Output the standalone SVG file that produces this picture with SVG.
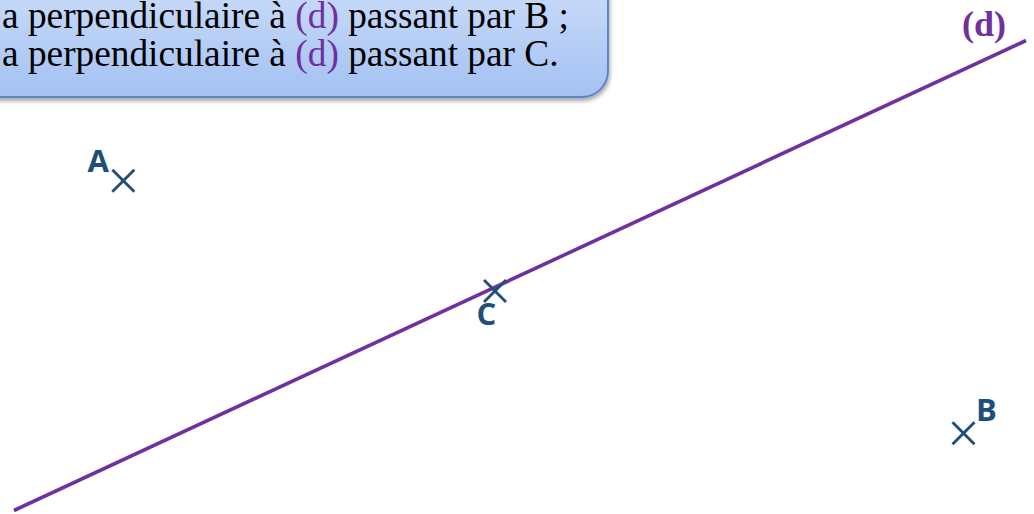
<svg xmlns="http://www.w3.org/2000/svg" width="1034" height="514" viewBox="0 0 1034 514">
  <defs>
    <linearGradient id="boxGrad" x1="0" y1="0" x2="0" y2="1">
      <stop offset="0" stop-color="#CFDFFA"/>
      <stop offset="1" stop-color="#A3C1F2"/>
    </linearGradient>
    <filter id="shadow" x="-10%" y="-10%" width="120%" height="130%">
      <feGaussianBlur in="SourceAlpha" stdDeviation="2"/>
      <feOffset dx="1" dy="3" result="b"/>
      <feComponentTransfer><feFuncA type="linear" slope="0.35"/></feComponentTransfer>
      <feMerge><feMergeNode/><feMergeNode in="SourceGraphic"/></feMerge>
    </filter>
    <g id="cross">
      <line x1="-11" y1="-11" x2="11" y2="11"/>
      <line x1="-11" y1="11" x2="11" y2="-11"/>
    </g>
  </defs>
  <style>
    .txt { font-family: "Liberation Serif", "Times New Roman", serif; font-size: 37.33px; fill: #000; }
    .purple { fill: #7030A0; }
    .lbl { font-family: "Open Sans", "Liberation Sans", sans-serif; font-weight: bold; font-size: 31px; fill: #1F4E79; }
    .cross { stroke: #1F4E79; stroke-width: 2.8; fill: none; }
    .dline { stroke: #7030A0; stroke-width: 3.6; stroke-linecap: butt; }
  </style>
  <rect width="1034" height="514" fill="#FFFFFF"/>

  <g id="instruction-box">
    <rect x="-30" y="-30" width="638" height="127" rx="26" ry="26" fill="url(#boxGrad)" stroke="#5A86C5" stroke-width="2" filter="url(#shadow)"/>
    <text class="txt" x="2" y="28">a perpendiculaire à <tspan class="purple">(d)</tspan> passant par B ;</text>
    <text class="txt" x="2" y="66">a perpendiculaire à <tspan class="purple">(d)</tspan> passant par C.</text>
  </g>

  <g id="connectors">
    <line class="dline" x1="14" y1="510.5" x2="1026" y2="40.5"/>
  </g>

  <g id="line-d-label">
    <text x="962" y="36" font-family="Liberation Serif, Times New Roman, serif" font-weight="bold" font-size="36" fill="#7030A0">(d)</text>
  </g>

  <g id="point-A">
    <use href="#cross" class="cross" transform="translate(123.3,180.7)"/>
    <text class="lbl" x="87.5" y="171.5">A</text>
  </g>

  <g id="point-C">
    <use href="#cross" class="cross" transform="translate(495,291)"/>
    <text class="lbl" x="476.5" y="325">C</text>
  </g>

  <g id="point-B">
    <use href="#cross" class="cross" transform="translate(963.5,433.3)"/>
    <text class="lbl" x="976" y="421">B</text>
  </g>
</svg>
